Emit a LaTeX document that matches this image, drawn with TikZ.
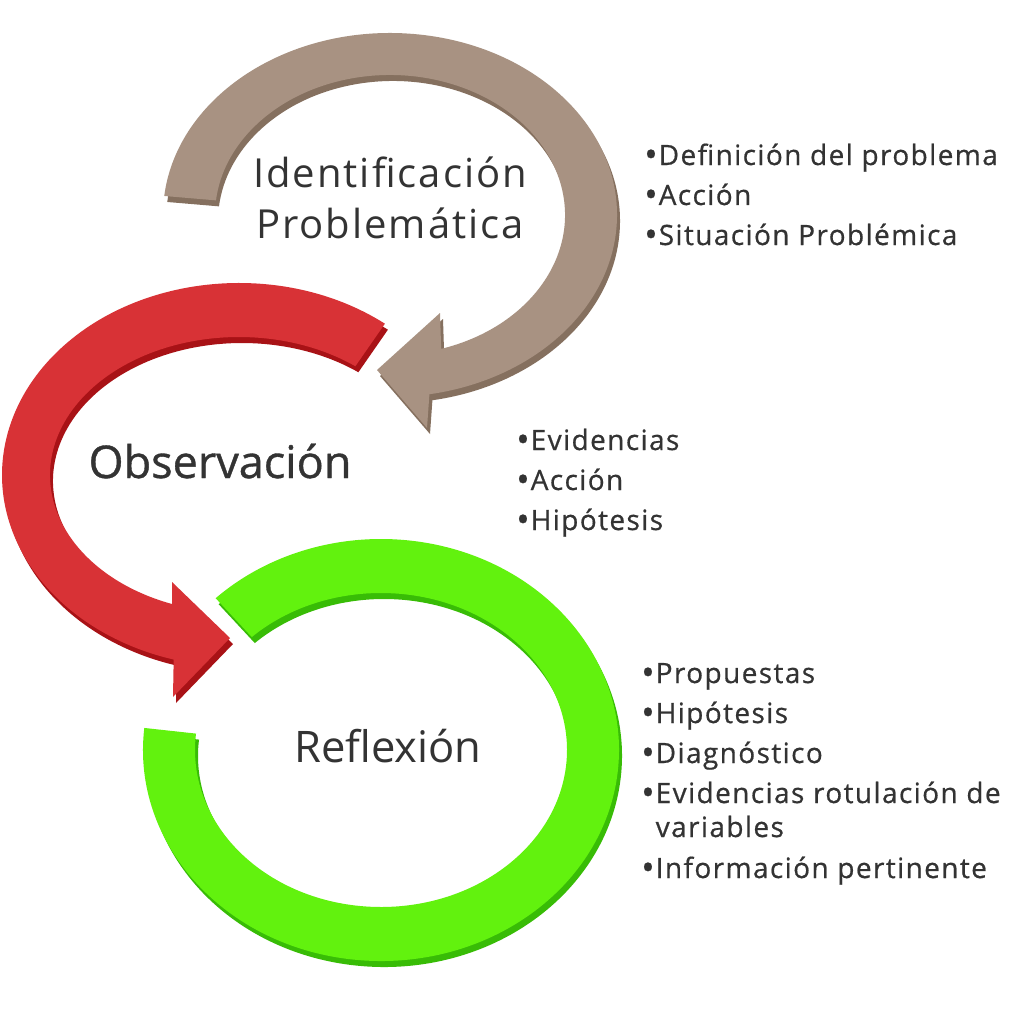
\documentclass[tikz,border=0pt]{standalone}
\usepackage{fontspec}
\setmainfont{Open Sans}
\newfontfamily\widefont{Open Sans}[LetterSpace=5]
\newfontfamily\listfont{Open Sans}[LetterSpace=5, FakeBold=0.6]
\newfontfamily\medfont{Open Sans}[FakeBold=0.8]
\newcommand\bulletmark{\raisebox{-2pt}{\fontsize{36}{40}\selectfont•}\hspace{1pt}}

\definecolor{brownband}{HTML}{A89282}
\definecolor{brownside}{HTML}{85705F}
\definecolor{redband}{HTML}{D83236}
\definecolor{redside}{HTML}{A81216}
\definecolor{greenband}{HTML}{62F20E}
\definecolor{greenside}{HTML}{38BC06}
\definecolor{textgray}{HTML}{333333}

\tikzset{
  title/.style={text=textgray, inner sep=0pt, anchor=base},
  items/.style={font=\listfont\fontsize{28}{40}\selectfont, text=textgray, align=left, inner sep=0pt, anchor=base west},
}

\begin{document}
\begin{tikzpicture}[x=1pt,y=-1pt]
\useasboundingbox (0,0) rectangle (1024,1024);
\fill[white] (0,0) rectangle (1024,1024);

\coordinate (bc) at (390,215);
\coordinate (rc) at (239,475);
\coordinate (gc) at (381,750);

% side layer first, then the face
\foreach \dx/\dy/\side in {3/6/side, 0/0/band} {
\begin{scope}[shift={(\dx,\dy)}]
% brown arrow
\fill[brown\side] ([shift={(bc)}]186:227 and 182) arc[start angle=186, end angle=440, x radius=227, y radius=182]
  -- (427,428) -- (377,370) -- (440,313)
  -- ([shift={(bc)}]433:175 and 140) arc[start angle=433, end angle=186, x radius=175, y radius=140] -- cycle;
% red arrow
\fill[red\side] ([shift={(rc)}]308:237 and 192) arc[start angle=308, end angle=106, x radius=237, y radius=192]
  -- (173,697) -- (230,638) -- (172,582)
  -- ([shift={(rc)}]110.7:189 and 138) arc[start angle=110.7, end angle=308, x radius=189, y radius=138] -- cycle;
% green ring
\fill[green\side] ([shift={(gc)}]186:238 and 211) arc[start angle=186, end angle=-134, x radius=238, y radius=211]
  -- ([shift={(gc)}]-134:186 and 157) arc[start angle=-134, end angle=186, x radius=186, y radius=157] -- cycle;
\end{scope}
}

\node[title, font=\widefont\fontsize{40}{46}\selectfont] (ident) at (390,188) {Identificación};
\node[title, font=\widefont\fontsize{40}{46}\selectfont] (probl) at (390,238) {Problemática};
\node[title, font=\medfont\fontsize{45}{50}\selectfont] (obs) at (220,478) {Observación};
\node[title, font=\fontsize{43.5}{50}\selectfont] (refl) at (388,762) {Reflexión};

% base of a list = baseline of its last line
\node[items] (idlist) at (644,245) {\bulletmark Definición del problema\\ \bulletmark Acción\\ \bulletmark Situación Problémica};
\node[items] (obslist) at (516,530) {\bulletmark Evidencias\\ \bulletmark Acción\\ \bulletmark Hipótesis};
\node[items] (refllist) at (641,878) {\bulletmark Propuestas\\ \bulletmark Hipótesis\\ \bulletmark Diagnóstico\\
  \bulletmark Evidencias rotulación de\\[-6pt] \phantom{\bulletmark}variables\\[1pt] \bulletmark Información pertinente};
\end{tikzpicture}
\end{document}
